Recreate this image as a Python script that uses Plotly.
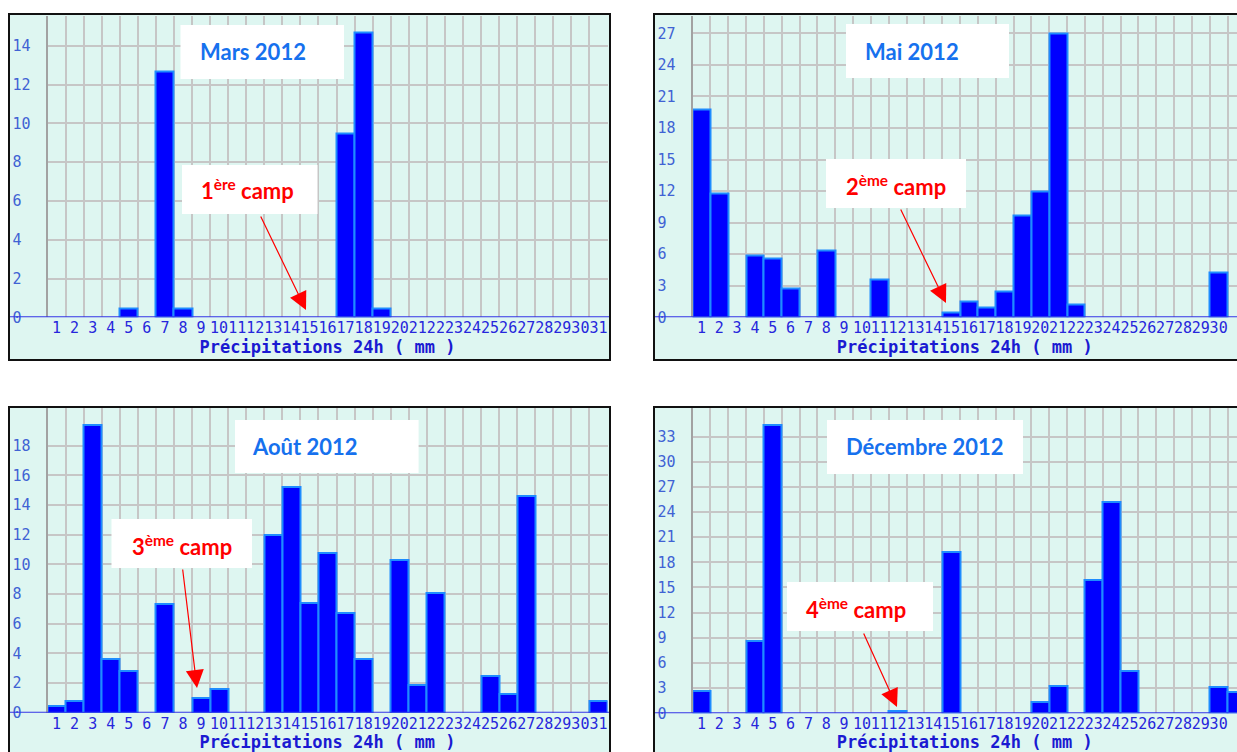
import plotly.graph_objects as go

# ---------------- data ----------------
days = list(range(1, 32))
mars_2012 = [0, 0, 0, 0, 0.45, 0, 12.7, 0.45, 0, 0, 0, 0, 0, 0, 0, 0,
             9.5, 14.7, 0.45, 0, 0, 0, 0, 0, 0, 0, 0, 0, 0, 0, 0]
mai_2012 = [19.8, 11.8, 0, 5.9, 5.6, 2.7, 0, 6.4, 0, 0, 3.6, 0, 0, 0, 0.5, 1.5,
            0.9, 2.5, 9.7, 12.0, 27.0, 1.2, 0, 0, 0, 0, 0, 0, 0, 4.3, 0]
aout_2012 = [0.45, 0.8, 19.4, 3.6, 2.8, 0, 7.3, 0, 1.0, 1.6, 0, 0, 12.0, 15.2, 7.4, 10.8,
             6.7, 3.6, 0, 10.3, 1.9, 8.1, 0, 0, 2.45, 1.25, 14.6, 0, 0, 0, 0.8]
decembre_2012 = [2.7, 0, 0, 8.6, 34.4, 0, 0, 0, 0, 0, 0, 0.3, 0, 0, 19.2, 0,
                 0, 0, 0, 1.3, 3.3, 0, 15.9, 25.2, 5.0, 0, 0, 0, 0, 3.1, 2.5]

month_titles = ["Mars 2012", "Mai 2012", "Août 2012", "Décembre 2012"]
camp_labels = ["1<sup>ère</sup> camp", "2<sup>ème</sup> camp",
               "3<sup>ème</sup> camp", "4<sup>ème</sup> camp"]
y_tick_steps = [2, 3, 2, 3]
y_tick_max = [14, 27, 18, 33]
x_axis_title = "Précipitations 24h ( mm )"
series = [mars_2012, mai_2012, aout_2012, decembre_2012]

# ---------------- layout geometry (pixels) ----------------
W, H = 1237, 752


def fx(p):
    return p / W


def fy(p):
    return 1 - p / H


geo = [
    dict(box=(9, 14, 610, 360), plot=(47.5, 15.5, 607.5, 317.3), xr=(0.5, 31.5), ytop=15.57,
         tbox=(180.5, 25, 344, 79), tc=(253, 51), cbox=(182, 165, 317.5, 214), cc=(247, 190),
         tip=(306, 310), tail=(260, 215)),
    dict(box=(654, 14, 1250, 360), plot=(692.5, 15.5, 1237, 317.3), xr=(0.5, 31.03), ytop=28.7,
         tbox=(846, 24, 1009, 78), tc=(912, 51), cbox=(826, 159, 966, 208), cc=(896, 185),
         tip=(946, 303), tail=(900, 208)),
    dict(box=(9, 407, 610, 770), plot=(47.5, 408, 607.5, 712.7), xr=(0.5, 31.5), ytop=20.55,
         tbox=(235, 420, 418.6, 473), tc=(305, 446), cbox=(111.5, 519, 252, 568), cc=(181.5, 545),
         tip=(197, 688), tail=(182.5, 568)),
    dict(box=(654, 407, 1250, 770), plot=(692.5, 408, 1237, 713.3), xr=(0.5, 31.03), ytop=36.4,
         tbox=(827, 420, 1023, 474), tc=(924, 446), cbox=(787, 582, 933, 631), cc=(856, 608),
         tip=(897, 707), tail=(863, 632)),
]

BG = "#DEF6F1"
GRID = "#C6C6C6"
BAR = "#0000FF"
BAR_EDGE = "#1E8CFF"
XTICK = "#2626DC"
YTICK = "#4062D4"
TITLE_BLUE = "#1A1AD2"
BOX_BLUE = "#1671EE"

fig = go.Figure()
shapes = []
annotations = []
layout_axes = {}

for i, (vals, g) in enumerate(zip(series, geo)):
    n = "" if i == 0 else str(i + 1)
    xa, ya = "x" + n, "y" + n
    fig.add_trace(go.Bar(
        x=days, y=[v if v > 0 else None for v in vals], width=1,
        marker=dict(color=BAR, line=dict(color=BAR_EDGE, width=2)),
        xaxis=xa, yaxis=ya, showlegend=False, hoverinfo="skip"))

    yt = list(range(0, y_tick_max[i] + 1, y_tick_steps[i]))
    x0, y0, x1, y1 = g["plot"]
    layout_axes["xaxis" + n] = dict(
        domain=[fx(x0), fx(x1)], range=list(g["xr"]), anchor=ya,
        tickmode="array", tickvals=days, ticktext=[str(d) for d in days], tickangle=0,
        tickfont=dict(family="DejaVu Sans Mono", size=15, color=XTICK),
        showgrid=False, zeroline=False, showline=False, ticks="",
        minor=dict(tickmode="linear", tick0=0.5, dtick=1, showgrid=True,
                   gridcolor=GRID, gridwidth=2, ticks=""),
        title=dict(text="<b>" + x_axis_title + "</b>", standoff=1,
                   font=dict(family="DejaVu Sans Mono", size=17, color=TITLE_BLUE)),
        fixedrange=True, automargin=False)
    layout_axes["yaxis" + n] = dict(
        domain=[fy(y1), fy(y0)], range=[0, g["ytop"]], anchor=xa,
        tickmode="array", tickvals=yt, ticktext=[str(v).ljust(2, "\u00a0") for v in yt],
        tickfont=dict(family="DejaVu Sans Mono", size=15, color=YTICK),
        showgrid=True, gridcolor=GRID, gridwidth=2, zeroline=False,
        showline=True, linecolor="#A2A2A2", linewidth=2, ticks="",
        ticklabelstandoff=12, fixedrange=True, automargin=False)

    bx0, by0, bx1, by1 = g["box"]
    shapes.append(dict(type="rect", xref="paper", yref="paper", x0=fx(bx0), x1=fx(bx1),
                       y0=fy(by1), y1=fy(by0), fillcolor=BG, line=dict(width=0), layer="below"))
    shapes.append(dict(type="line", xref="paper", yref=ya, x0=fx(bx0), x1=fx(bx1), y0=0, y1=0,
                       line=dict(color="#3434E6", width=2), layer="above"))
    shapes.append(dict(type="rect", xref="paper", yref="paper", x0=fx(bx0), x1=fx(bx1),
                       y0=fy(by1), y1=fy(by0), fillcolor="rgba(0,0,0,0)",
                       line=dict(color="#111111", width=2), layer="above"))
    for key in ("tbox", "cbox"):
        a0, b0, a1, b1 = g[key]
        shapes.append(dict(type="rect", xref="paper", yref="paper", x0=fx(a0), x1=fx(a1),
                           y0=fy(b1), y1=fy(b0), fillcolor="white", line=dict(width=0), layer="above"))
    annotations.append(dict(xref="paper", yref="paper", x=fx(g["tc"][0]), y=fy(g["tc"][1]),
                            text="<b>" + month_titles[i] + "</b>", showarrow=False,
                            xanchor="center", yanchor="middle",
                            font=dict(family="Lato", size=22, color=BOX_BLUE)))
    annotations.append(dict(xref="paper", yref="paper", x=fx(g["cc"][0]), y=fy(g["cc"][1]),
                            text="<b>" + camp_labels[i] + "</b>", showarrow=False,
                            xanchor="center", yanchor="middle",
                            font=dict(family="Lato", size=22, color="#FF0000")))
    annotations.append(dict(xref="paper", yref="paper", x=fx(g["tip"][0]), y=fy(g["tip"][1]),
                            text="", showarrow=True, arrowhead=2, arrowsize=3, arrowwidth=1.2,
                            arrowcolor="#FF0000", standoff=0, axref="pixel", ayref="pixel",
                            ax=g["tail"][0] - g["tip"][0], ay=g["tail"][1] - g["tip"][1]))

fig.update_layout(
    width=W, height=H, margin=dict(l=0, r=0, t=0, b=0),
    paper_bgcolor="white", plot_bgcolor="rgba(0,0,0,0)",
    barmode="overlay", bargap=0, showlegend=False,
    shapes=shapes, annotations=annotations, **layout_axes)

fig.write_html(
    "out.html",
    config={"displayModeBar": False, "staticPlot": False},
    post_script="document.body.style.margin='0';document.body.style.overflow='hidden';"
                "document.documentElement.style.overflow='hidden';")
